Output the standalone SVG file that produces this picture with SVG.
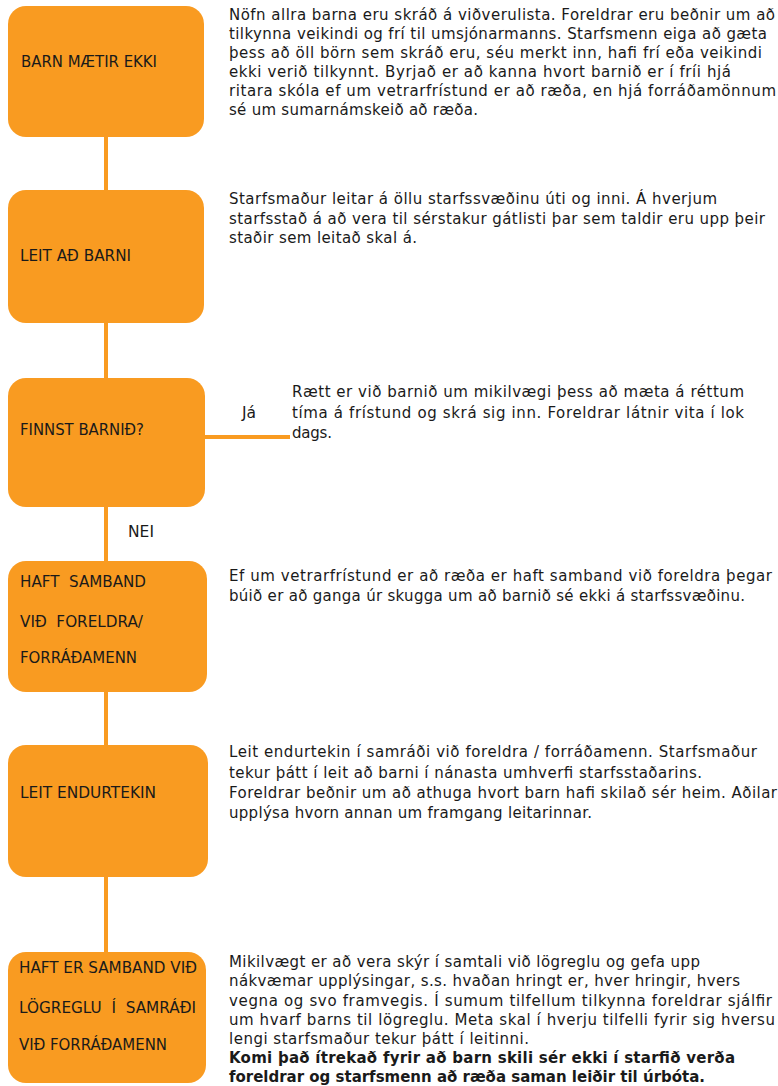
<svg xmlns="http://www.w3.org/2000/svg" width="778" height="1086" viewBox="0 0 778 1086">
<style>
.box{fill:#F99B21;}
.conn{stroke:#F99B21;stroke-width:4;fill:none;}
.lbl{font-family:"DejaVu Sans","Liberation Sans",sans-serif;font-size:16px;fill:#1a1a1a;}
.txt{font-family:"DejaVu Sans","Liberation Sans",sans-serif;font-size:15px;fill:#1a1a1a;}
.yn{font-family:"DejaVu Sans","Liberation Sans",sans-serif;font-size:15.5px;fill:#1a1a1a;}
.b{font-weight:bold;}
</style>
<rect width="778" height="1086" fill="#ffffff"/>
<g id="connectors">
<line class="conn" x1="106" y1="135" x2="106" y2="192"/>
<line class="conn" x1="106" y1="321" x2="106" y2="380"/>
<line class="conn" x1="106" y1="505" x2="106" y2="563"/>
<line class="conn" x1="106" y1="690" x2="106" y2="747"/>
<line class="conn" x1="106" y1="875" x2="106" y2="954"/>
<line class="conn" x1="202" y1="437" x2="290" y2="437"/>
<text class="yn" x="242" y="418">Já</text>
<text class="yn" x="128" y="537">NEI</text>
</g>
<g id="n1">
<rect class="box" x="8" y="6" width="196" height="131" rx="18"/>
<text class="lbl" x="21" y="67" textLength="136" lengthAdjust="spacingAndGlyphs">BARN MÆTIR EKKI</text>
<g class="txt">
<text x="229" y="20" textLength="546">Nöfn allra barna eru skráð á viðverulista. Foreldrar eru beðnir um að</text>
<text x="229" y="39" textLength="538">tilkynna veikindi og frí til umsjónarmanns. Starfsmenn eiga að gæta</text>
<text x="229" y="58" textLength="533">þess að öll börn sem skráð eru, séu merkt inn, hafi frí eða veikindi</text>
<text x="229" y="77" textLength="502">ekki verið tilkynnt. Byrjað er að kanna hvort barnið er í fríi hjá</text>
<text x="229" y="95.5" textLength="547">ritara skóla ef um vetrarfrístund er að ræða, en hjá forráðamönnum</text>
<text x="229" y="114.5" textLength="249">sé um sumarnámskeið að ræða.</text>
</g>
</g>
<g id="n2">
<rect class="box" x="8" y="190" width="196" height="133" rx="18"/>
<text class="lbl" x="20" y="261" textLength="111" lengthAdjust="spacingAndGlyphs">LEIT AÐ BARNI</text>
<g class="txt">
<text x="229" y="204" textLength="488">Starfsmaður leitar á öllu starfssvæðinu úti og inni. Á hverjum</text>
<text x="229" y="223.5" textLength="536">starfsstað á að vera til sérstakur gátlisti þar sem taldir eru upp þeir</text>
<text x="229" y="243" textLength="188">staðir sem leitað skal á.</text>
</g>
</g>
<g id="n3">
<rect class="box" x="8" y="378" width="197" height="129" rx="18"/>
<text class="lbl" x="20" y="435" textLength="124" lengthAdjust="spacingAndGlyphs">FINNST BARNIÐ?</text>
<g class="txt">
<text x="292" y="397" textLength="452">Rætt er við barnið um mikilvægi þess að mæta á réttum</text>
<text x="292" y="417.5" textLength="452">tíma á frístund og skrá sig inn. Foreldrar látnir vita í lok</text>
<text x="292" y="438" textLength="40">dags.</text>
</g>
</g>
<g id="n4">
<rect class="box" x="8" y="561" width="199" height="131" rx="18"/>
<text class="lbl" x="20" y="587" textLength="126" lengthAdjust="spacingAndGlyphs" xml:space="preserve">HAFT  SAMBAND</text>
<text class="lbl" x="20" y="627" textLength="123" lengthAdjust="spacingAndGlyphs" xml:space="preserve">VIÐ  FORELDRA/</text>
<text class="lbl" x="20" y="663" textLength="117" lengthAdjust="spacingAndGlyphs">FORRÁÐAMENN</text>
<g class="txt">
<text x="229" y="581" textLength="543">Ef um vetrarfrístund er að ræða er haft samband við foreldra þegar</text>
<text x="229" y="601" textLength="516">búið er að ganga úr skugga um að barnið sé ekki á starfssvæðinu.</text>
</g>
</g>
<g id="n5">
<rect class="box" x="8" y="745" width="200" height="132" rx="18"/>
<text class="lbl" x="20" y="798" textLength="136" lengthAdjust="spacingAndGlyphs">LEIT ENDURTEKIN</text>
<g class="txt">
<text x="229" y="757" textLength="528">Leit endurtekin í samráði við foreldra / forráðamenn. Starfsmaður</text>
<text x="229" y="777.5" textLength="473">tekur þátt í leit að barni í nánasta umhverfi starfsstaðarins.</text>
<text x="229" y="798" textLength="548">Foreldrar beðnir um að athuga hvort barn hafi skilað sér heim. Aðilar</text>
<text x="229" y="818" textLength="363">upplýsa hvorn annan um framgang leitarinnar.</text>
</g>
</g>
<g id="n6">
<rect class="box" x="8" y="952" width="198" height="131" rx="18"/>
<text class="lbl" x="19" y="973" textLength="178" lengthAdjust="spacingAndGlyphs">HAFT ER SAMBAND VIÐ</text>
<text class="lbl" x="19" y="1013" textLength="177" lengthAdjust="spacingAndGlyphs" xml:space="preserve">LÖGREGLU  Í  SAMRÁÐI</text>
<text class="lbl" x="19" y="1050" textLength="148" lengthAdjust="spacingAndGlyphs">VIÐ FORRÁÐAMENN</text>
<g class="txt">
<text x="229" y="967" textLength="471">Mikilvægt er að vera skýr í samtali við lögreglu og gefa upp</text>
<text x="229" y="986" textLength="511">nákvæmar upplýsingar, s.s. hvaðan hringt er, hver hringir, hvers</text>
<text x="229" y="1005.5" textLength="543">vegna og svo framvegis. Í sumum tilfellum tilkynna foreldrar sjálfir</text>
<text x="229" y="1024.5" textLength="546">um hvarf barns til lögreglu. Meta skal í hverju tilfelli fyrir sig hversu</text>
<text x="229" y="1043.5" textLength="300">lengi starfsmaður tekur þátt í leitinni.</text>
<text class="b" x="229" y="1063" textLength="506">Komi það ítrekað fyrir að barn skili sér ekki í starfið verða</text>
<text class="b" x="229" y="1082" textLength="476">foreldrar og starfsmenn að ræða saman leiðir til úrbóta.</text>
</g>
</g>
</svg>
